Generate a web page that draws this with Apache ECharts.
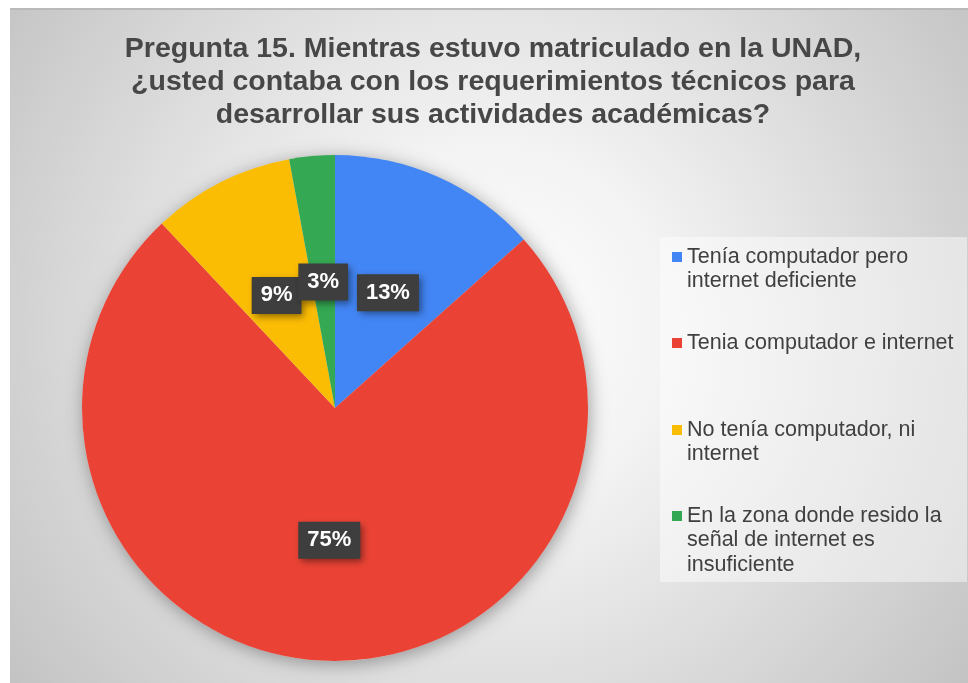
<!DOCTYPE html>
<html>
<head>
<meta charset="utf-8">
<script src="https://cdn.jsdelivr.net/npm/echarts@6/dist/echarts.min.js"></script>
<style>
html,body{margin:0;padding:0;background:#fff;}
#c{width:968px;height:683px;}
</style>
</head>
<body>
<div id="c"></div>
<script>
const titleText = 'Pregunta 15. Mientras estuvo matriculado en la UNAD,\n¿usted contaba con los requerimientos técnicos para\ndesarrollar sus actividades académicas?';
const categories = [
  'Tenía computador pero internet deficiente',
  'Tenia computador e internet',
  'No tenía computador, ni internet',
  'En la zona donde resido la señal de internet es insuficiente'
];
const legendLabels = [
  'Tenía computador pero\ninternet deficiente',
  'Tenia computador e internet',
  'No tenía computador, ni\ninternet',
  'En la zona donde resido la\nseñal de internet es\ninsuficiente'
];
const values = [13.4, 74.6, 9.1, 2.9];
const colors = ['#4285F4', '#EA4335', '#FBBC04', '#34A853'];

const legendCenters = [257, 343, 430, 516];
const LH = 24.5;

const chart = echarts.init(document.getElementById('c'), null, {renderer: 'canvas'});

const legends = categories.map((name, i) => {
  const n = legendLabels[i].split('\n').length;
  return {
    left: 672,
    top: legendCenters[i] - LH * (2 * n - 1) / 2,
    orient: 'vertical',
    padding: 0,
    itemWidth: 10,
    itemHeight: 10,
    icon: 'rect',
    selectedMode: false,
    data: [name],
    formatter: () => '\n'.repeat(n - 1) + legendLabels[i],
    textStyle: {
      fontFamily: 'Liberation Sans, Arial, sans-serif',
      fontSize: 21.5,
      lineHeight: LH,
      color: '#404040'
    }
  };
});

const option = {
  backgroundColor: '#ffffff',
  animation: false,
  color: colors,
  graphic: [
    {
      type: 'rect', z: -10, silent: true,
      shape: {x: 10, y: 8, width: 958, height: 675},
      style: {
        fill: {
          type: 'radial', x: 0.5, y: 0.47, r: 0.9,
          colorStops: [
            {offset: 0, color: '#ffffff'},
            {offset: 0.3, color: '#f3f3f3'},
            {offset: 1, color: '#c2c2c2'}
          ]
        }
      }
    },
    {
      type: 'rect', z: -9, silent: true,
      shape: {x: 10, y: 8, width: 958, height: 2},
      style: {fill: '#b9b9b9'}
    },
    {
      type: 'rect', z: -8, silent: true,
      shape: {x: 660, y: 237, width: 307, height: 345},
      style: {fill: 'rgba(255,255,255,0.45)'}
    }
  ],
  title: {
    text: titleText,
    left: 493,
    top: 33,
    padding: 0,
    textAlign: 'center',
    textStyle: {
      fontFamily: 'Liberation Sans, Arial, sans-serif',
      fontSize: 28.5,
      fontWeight: 'bold',
      lineHeight: 33,
      color: '#474747'
    }
  },
  legend: legends,
  series: [
    {
      type: 'pie',
      name: 'shadow',
      silent: true,
      z: 1,
      center: [335, 408],
      radius: 253,
      legendHoverLink: false,
      label: {show: false},
      labelLine: {show: false},
      tooltip: {show: false},
      itemStyle: {
        color: '#dddddd',
        shadowBlur: 18,
        shadowColor: 'rgba(0,0,0,0.35)',
        shadowOffsetX: 2,
        shadowOffsetY: 3
      },
      data: [{value: 1, name: '__shadow__'}]
    },
    {
      type: 'pie',
      z: 2,
      center: [335, 408],
      radius: 253,
      startAngle: 90,
      clockwise: true,
      percentPrecision: 0,
      avoidLabelOverlap: false,
      labelLayout: {hideOverlap: false, dy: 3},
      emphasis: {disabled: true},
      itemStyle: {borderWidth: 0},
      label: {
        show: true,
        position: 'inside',
        formatter: '{d}%',
        fontFamily: 'Liberation Sans, Arial, sans-serif',
        fontSize: 22,
        fontWeight: 'bold',
        lineHeight: 22,
        color: '#ffffff',
        backgroundColor: '#3e3e3e',
        padding: [8, 9, 7, 9],
        shadowColor: 'rgba(0,0,0,0.45)',
        shadowBlur: 7,
        shadowOffsetX: 3,
        shadowOffsetY: 3
      },
      labelLine: {show: false},
      data: categories.map((name, i) => ({name: name, value: values[i]}))
    }
  ]
};
chart.setOption(option);
</script>
</body>
</html>
